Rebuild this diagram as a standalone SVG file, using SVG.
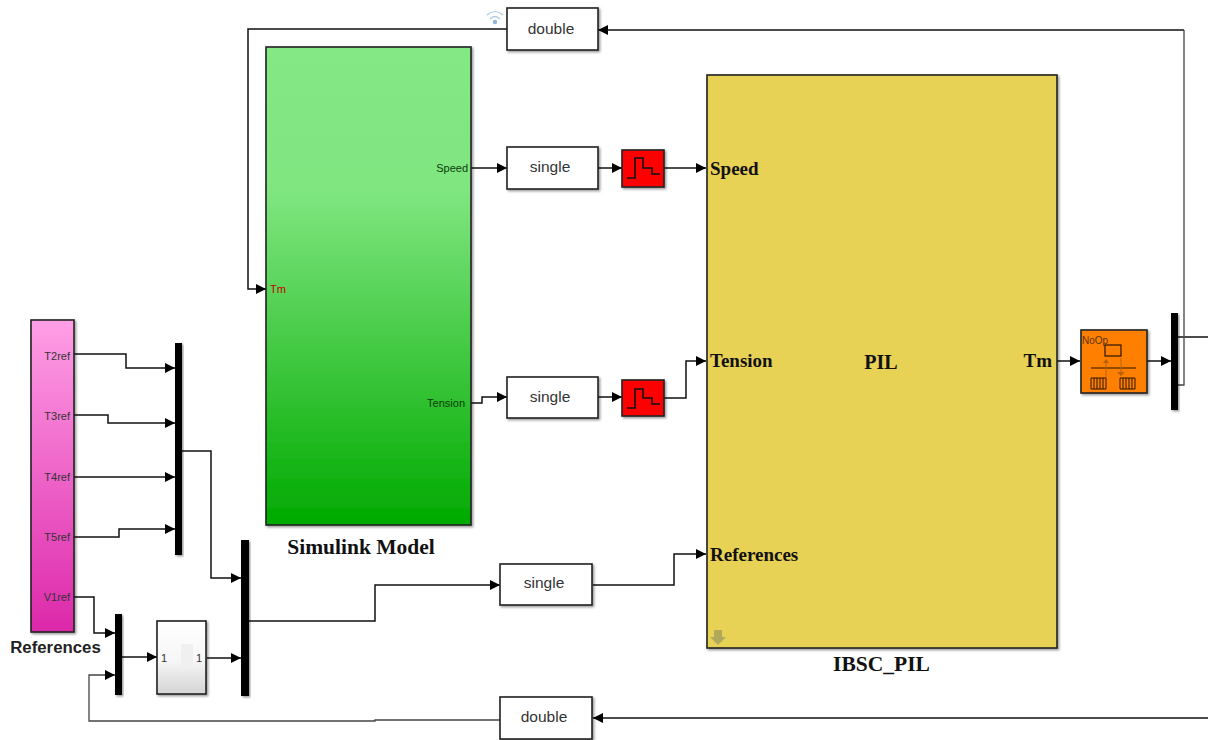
<svg xmlns="http://www.w3.org/2000/svg" width="1208" height="740" viewBox="0 0 1208 740">
<style>
.w{fill:none;stroke:#111;stroke-width:1.5}
.wg{fill:none;stroke:#444;stroke-width:1.3}
.b{stroke:#222;stroke-width:1.6;filter:url(#sh)}
.bar{fill:#000;filter:url(#sh)}
.t{font-family:"Liberation Sans",Arial,sans-serif;font-size:15.5px;fill:#333;text-anchor:middle}
.p{font-family:"Liberation Sans",Arial,sans-serif;font-size:11px;text-anchor:end;fill:#333}
.s{font-family:"Liberation Serif","Times New Roman",serif;font-weight:bold;fill:#111}
.i{fill:none;stroke:#111;stroke-width:1.6}
</style>
<defs>
<marker id="a" markerUnits="userSpaceOnUse" markerWidth="11" markerHeight="12" refX="10" refY="6" orient="auto"><path d="M0 1L10 6L0 11Z" fill="#000"/></marker>
<filter id="sh" x="-10%" y="-10%" width="125%" height="125%"><feDropShadow dx="1.5" dy="1.5" stdDeviation="1.2" flood-color="#000" flood-opacity="0.4"/></filter>
<linearGradient id="gg" x1="0" y1="0" x2="0" y2="1"><stop offset="0" stop-color="#84e884"/><stop offset="0.3" stop-color="#80e680"/><stop offset="1" stop-color="#00aa00"/></linearGradient>
<linearGradient id="gp" x1="0" y1="0" x2="0" y2="1"><stop offset="0" stop-color="#ff9fe6"/><stop offset="1" stop-color="#dc28aa"/></linearGradient>
<linearGradient id="gw" x1="0" y1="0" x2="0" y2="1"><stop offset="0" stop-color="#fff"/><stop offset="0.55" stop-color="#f6f6f6"/><stop offset="1" stop-color="#d4d4d4"/></linearGradient>
</defs>
<rect width="1208" height="740" fill="#fff"/>
<g id="connectors">
<path class="w" marker-end="url(#a)" d="M507 29H248V289H266"/>
<path class="w" marker-end="url(#a)" d="M1184 30H598"/>
<path class="wg" d="M1184 30V336M1184 338V385H1176"/>
<path class="w" d="M1176 337H1208"/>
<path class="w" marker-end="url(#a)" d="M471 168H507"/>
<path class="w" marker-end="url(#a)" d="M598 168H622"/>
<path class="w" marker-end="url(#a)" d="M664 168H706"/>
<path class="w" marker-end="url(#a)" d="M471 403H482V397H507"/>
<path class="w" marker-end="url(#a)" d="M598 397H622"/>
<path class="w" marker-end="url(#a)" d="M664 398H686V361H706"/>
<path class="w" marker-end="url(#a)" d="M1057 361H1080"/>
<path class="w" marker-end="url(#a)" d="M1147 361H1171"/>
<path class="w" marker-end="url(#a)" d="M593 585H674V554H706"/>
<path class="w" marker-end="url(#a)" d="M74 354H126V368H175"/>
<path class="w" marker-end="url(#a)" d="M74 415H108V423H175"/>
<path class="w" marker-end="url(#a)" d="M74 477H175"/>
<path class="w" marker-end="url(#a)" d="M74 537H119V529H175"/>
<path class="w" marker-end="url(#a)" d="M182 451H211V578H241"/>
<path class="w" marker-end="url(#a)" d="M74 597H94V633H115"/>
<path class="w" marker-end="url(#a)" d="M122 657H157"/>
<path class="w" marker-end="url(#a)" d="M207 658H241"/>
<path class="w" marker-end="url(#a)" d="M248 621H375V585H500"/>
<path class="wg" marker-end="url(#a)" d="M500 720H375V721H89V675H115"/>
<path class="w" marker-end="url(#a)" d="M1208 718H593"/>
</g>
<g id="wireless">
<path d="M487 15Q495 8 503 15M490 19Q495 14 500 19" fill="none" stroke="#a9c8e8" stroke-width="1.2"/>
<circle cx="495" cy="22" r="2.2" fill="#8fb5dd"/>
</g>
<g id="simulink-model">
<rect class="b" x="266" y="47" width="205" height="478" fill="url(#gg)"/>
<text class="p" x="468" y="172" style="fill:#0a3d0a">Speed</text>
<text class="p" x="465" y="407" style="fill:#0a3d0a">Tension</text>
<text class="p" x="286" y="293" style="fill:#c00000">Tm</text>
<text class="s" x="361" y="554" font-size="21.5" text-anchor="middle">Simulink Model</text>
</g>
<g id="references">
<rect class="b" x="31" y="320" width="43" height="312" fill="url(#gp)"/>
<text class="p" x="70" y="360">T2ref</text>
<text class="p" x="70" y="420">T3ref</text>
<text class="p" x="70" y="481">T4ref</text>
<text class="p" x="70" y="541">T5ref</text>
<text class="p" x="70" y="601">V1ref</text>
<text x="55.500" y="653" font-family="Liberation Sans, Arial, sans-serif" font-weight="bold" font-size="16.800" fill="#222" text-anchor="middle">References</text>
</g>
<g id="mux-top"><rect class="bar" x="175" y="343" width="7" height="212"/></g>
<g id="mux-mid"><rect class="bar" x="241" y="540" width="8" height="156"/></g>
<g id="mux-low"><rect class="bar" x="115" y="614" width="7" height="81"/></g>
<g id="mux-right"><rect class="bar" x="1171" y="313" width="7" height="97"/></g>
<g id="subsystem">
<rect class="b" x="157" y="621" width="49" height="73" fill="url(#gw)"/>
<rect x="181" y="644" width="12" height="24" fill="#f0f0f0"/>
<text x="164" y="662" font-family="Liberation Sans, Arial, sans-serif" font-size="11" fill="#333" text-anchor="middle">1</text>
<text x="199" y="662" font-family="Liberation Sans, Arial, sans-serif" font-size="11" fill="#333" text-anchor="middle">1</text>
</g>
<g id="double-top"><rect class="b" x="507" y="8" width="91" height="42" fill="#fff"/><text class="t" x="551" y="34">double</text></g>
<g id="single-speed"><rect class="b" x="507" y="147" width="91" height="42" fill="#fff"/><text class="t" x="550" y="172">single</text></g>
<g id="single-tension"><rect class="b" x="507" y="377" width="91" height="41" fill="#fff"/><text class="t" x="550" y="402">single</text></g>
<g id="single-ref"><rect class="b" x="500" y="564" width="92" height="41" fill="#fff"/><text class="t" x="544" y="588">single</text></g>
<g id="double-bottom"><rect class="b" x="500" y="697" width="92" height="42" fill="#fff"/><text class="t" x="544" y="722">double</text></g>
<g id="zoh-speed"><rect class="b" x="622" y="150" width="42" height="37" fill="#f00"/><path class="i" d="M627 178H635V158H643V168H652V174H660"/></g>
<g id="zoh-tension"><rect class="b" x="622" y="380" width="42" height="36" fill="#f00"/><path class="i" d="M627 408H635V389H643V398H652V404H660"/></g>
<g id="pil">
<rect class="b" x="707" y="75" width="350" height="573" fill="#e8d255"/>
<text class="s" x="710" y="175" font-size="19">Speed</text>
<text class="s" x="710" y="367" font-size="19">Tension</text>
<text class="s" x="710" y="561" font-size="19">References</text>
<text class="s" x="881" y="369" font-size="20" text-anchor="middle">PIL</text>
<text class="s" x="1052" y="367" font-size="19" text-anchor="end">Tm</text>
<path d="M714 630H722V637H726L718 645L710 637H714Z" fill="#b0a85a"/>
<text class="s" x="881.500" y="671" font-size="21.500" text-anchor="middle">IBSC_PIL</text>
</g>
<g id="pil-block">
<rect class="b" x="1081" y="330" width="66" height="63" fill="#ff8000"/>
<text x="1082" y="344" font-family="Liberation Sans, Arial, sans-serif" font-size="10" fill="#5a3000">NoOp</text>
<rect x="1105" y="345" width="16" height="11" fill="none" stroke="#2a1500" stroke-width="1.2"/>
<path d="M1091 368H1136" stroke="#2a1500" stroke-width="1.2"/>
<path d="M1106 378V362M1121 358V374" stroke="#b86000" stroke-width="1"/>
<path d="M1103 363L1106 359L1109 363ZM1117 372H1125L1121 376Z" fill="#b86000"/>
<path d="M1091 378H1106V389H1091ZM1120 378H1135V389H1120ZM1094 378V389M1097 378V389M1100 378V389M1103 378V389M1123 378V389M1126 378V389M1129 378V389M1132 378V389" fill="none" stroke="#2a1500" stroke-width="1"/>
</g>
</svg>
